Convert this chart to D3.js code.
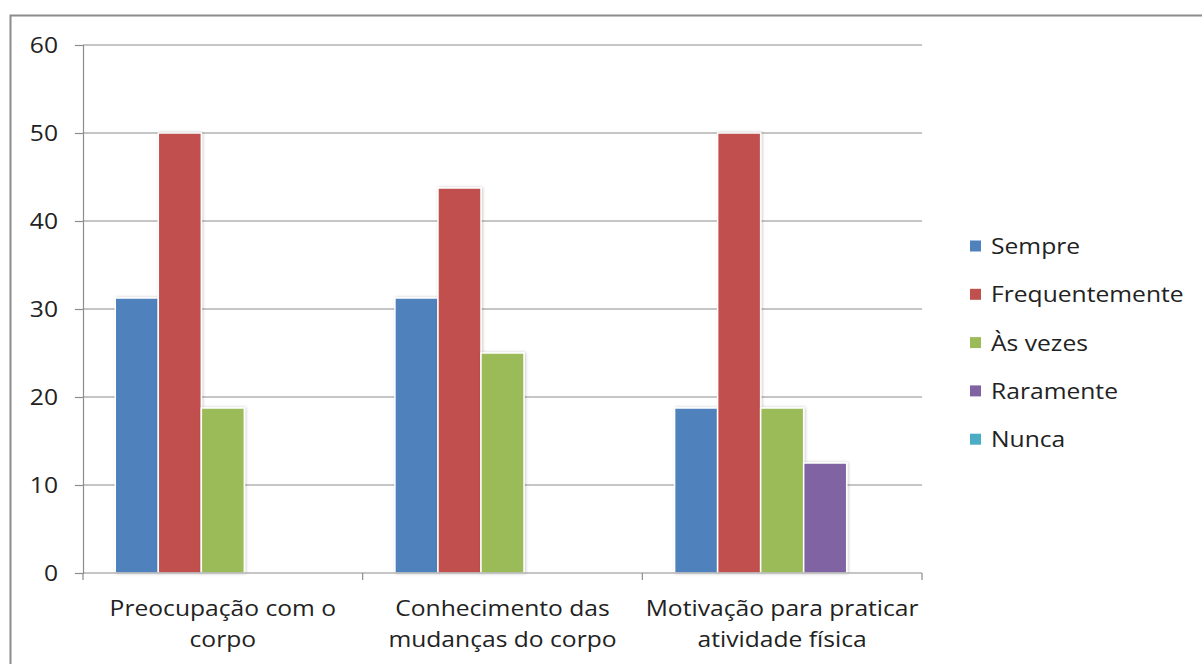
<!DOCTYPE html>
<html>
<head>
<meta charset="utf-8">
<script src="https://cdn.jsdelivr.net/npm/d3@7"></script>
<style>
  html, body { margin: 0; padding: 0; background: #fff; }
  svg { display: block; }
  text { font-family: "Open Sans", "Noto Sans", sans-serif; fill: #222; }
</style>
</head>
<body>
<svg id="chart" width="1202" height="664"></svg>
<script>
// Categories (multi-line labels) and response series
const categories = [
  ["Preocupação com o", "corpo"],
  ["Conhecimento das", "mudanças do corpo"],
  ["Motivação para praticar", "atividade física"]
];
const seriesNames = ["Sempre", "Frequentemente", "Às vezes", "Raramente", "Nunca"];
const seriesColors = ["#4F81BD", "#C0504D", "#9BBB59", "#8064A2", "#4BACC6"];
const sempre         = [31.25, 31.25, 18.75];
const frequentemente = [50, 43.75, 50];
const asVezes        = [18.75, 25, 18.75];
const raramente      = [0, 0, 12.5];
const nunca          = [0, 0, 0];
const yTicks = [0, 10, 20, 30, 40, 50, 60];

const seriesValues = [sempre, frequentemente, asVezes, raramente, nunca];

const FONT_SIZE = 22;
const STRETCH = 1.12; // horizontal widening of the label glyphs

const svg = d3.select("#chart");

// soft shadow under the bars
const defs = svg.append("defs");
const f = defs.append("filter").attr("id", "shadow")
  .attr("x", "-20%").attr("y", "-10%").attr("width", "140%").attr("height", "120%");
f.append("feDropShadow").attr("dx", 1).attr("dy", 0).attr("stdDeviation", 1.6)
  .attr("flood-color", "#000").attr("flood-opacity", 0.22);

// outer frame (left and top edges visible)
svg.append("rect")
  .attr("x", 10.5).attr("y", 15.5).attr("width", 1300).attr("height", 800)
  .attr("fill", "none").attr("stroke", "#8c8c8c").attr("stroke-width", 2);

const plot = { left: 83, right: 922, top: 45, bottom: 573 };

const x = d3.scaleBand()
  .domain(d3.range(categories.length))
  .range([plot.left, plot.right]);

const bandPad = 0.75; // gap on each side, in bar widths
const barW = x.bandwidth() / (seriesNames.length + 2 * bandPad);
const xs = d3.scaleBand()
  .domain(d3.range(seriesNames.length))
  .range([barW * bandPad, x.bandwidth() - barW * bandPad]);

const y = d3.scaleLinear().domain([0, 60]).range([plot.bottom, plot.top]);

// places a stretched text whose anchor sits at (ax, ay)
function stretchedText(sel, ax, ay) {
  sel.attr("transform", `translate(${ax},${ay}) scale(${STRETCH},1)`)
    .attr("x", 0).attr("y", 0);
}

// gridlines + y axis
const yAxis = d3.axisLeft(y).tickValues(yTicks).tickSize(8).tickPadding(14);
const gy = svg.append("g").attr("transform", `translate(${plot.left},0)`).call(yAxis);
gy.select(".domain").attr("stroke", "#8c8c8c").attr("stroke-width", 1.2);
gy.selectAll(".tick line").attr("stroke", "#8c8c8c").attr("stroke-width", 1.2);
gy.selectAll(".tick text")
  .style("font-size", FONT_SIZE + "px")
  .style("font-family", "'Open Sans', sans-serif")
  .attr("fill", "#222")
  .attr("dy", "0.35em")
  .each(function () { stretchedText(d3.select(this), -25, 0); });

svg.append("g").selectAll("line")
  .data(yTicks.filter(d => d > 0))
  .join("line")
  .attr("x1", plot.left).attr("x2", plot.right)
  .attr("y1", d => y(d)).attr("y2", d => y(d))
  .attr("stroke", "#8c8c8c").attr("stroke-width", 1.2);

// bars
const groups = svg.append("g").selectAll("g")
  .data(categories.map((c, i) => i))
  .join("g")
  .attr("transform", i => `translate(${x(i)},0)`);

groups.selectAll("rect")
  .data(i => seriesValues.map((vals, s) => ({ s, v: vals[i] })).filter(d => d.v > 0))
  .join("rect")
  .attr("x", d => xs(d.s))
  .attr("width", xs.bandwidth())
  .attr("y", d => y(d.v))
  .attr("height", d => y(0) - y(d.v))
  .attr("fill", d => seriesColors[d.s])
  .attr("stroke", "#fff").attr("stroke-width", 1.5)
  .attr("filter", "url(#shadow)");

// x axis with category ticks
const xAxisG = svg.append("g");
xAxisG.append("line")
  .attr("x1", plot.left).attr("x2", plot.right)
  .attr("y1", y(0)).attr("y2", y(0))
  .attr("stroke", "#8c8c8c").attr("stroke-width", 1.2);
xAxisG.selectAll("line.tick")
  .data(d3.range(categories.length + 1))
  .join("line").attr("class", "tick")
  .attr("x1", i => plot.left + i * x.step()).attr("x2", i => plot.left + i * x.step())
  .attr("y1", y(0)).attr("y2", y(0) + 7)
  .attr("stroke", "#8c8c8c").attr("stroke-width", 1.2);

categories.forEach((lines, i) => {
  lines.forEach((ln, k) => {
    xAxisG.append("text")
      .attr("text-anchor", "middle")
      .style("font-size", FONT_SIZE + "px")
      .text(ln)
      .call(stretchedText, x(i) + x.bandwidth() / 2, 616 + k * 31);
  });
});

// legend
const legend = svg.append("g").attr("transform", "translate(970,246)");
const items = legend.selectAll("g")
  .data(seriesNames)
  .join("g")
  .attr("transform", (d, i) => `translate(0,${i * 48.3})`);
items.append("rect")
  .attr("x", 0).attr("y", -5.5).attr("width", 11).attr("height", 11)
  .attr("fill", (d, i) => seriesColors[i]);
items.append("text")
  .style("font-size", FONT_SIZE + "px")
  .text(d => d)
  .each(function () { stretchedText(d3.select(this), 21, 8); });
</script>
</body>
</html>
